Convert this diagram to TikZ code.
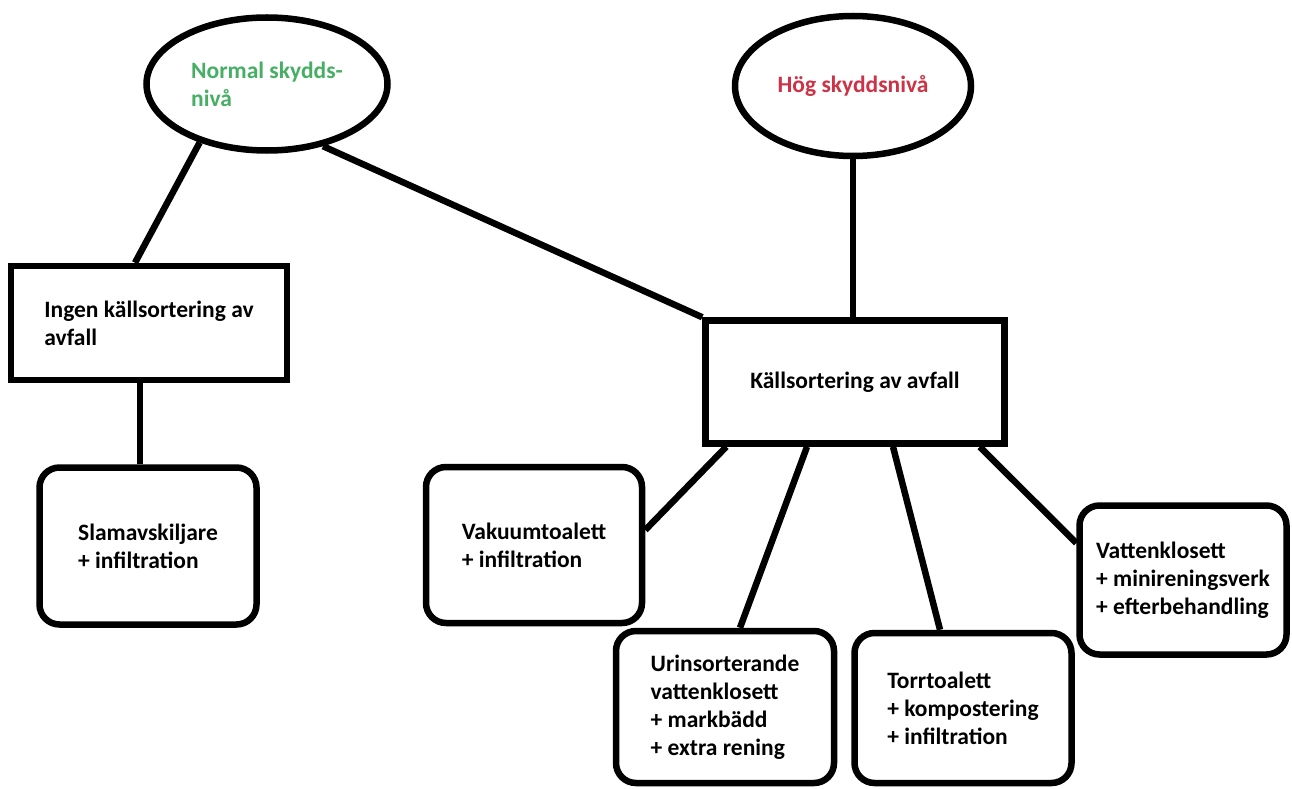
\documentclass[tikz,border=0pt]{standalone}
\usepackage{fontspec}
\setmainfont{Carlito}
\usetikzlibrary{shapes.geometric,calc}
\definecolor{normgreen}{RGB}{70,175,100}
\definecolor{hogred}{RGB}{205,50,70}
\begin{document}
\begin{tikzpicture}[x=1pt,y=-1pt,
  every node/.style={font=\fontsize{23.5}{28}\selectfont\bfseries, align=left, inner sep=0pt},
  oval/.style={ellipse, draw, line width=6.5pt, fill=white},
  sqbox/.style={rectangle, draw, line width=6.5pt, fill=white},
  rbox/.style={rectangle, rounded corners=20pt, draw, line width=6.5pt, fill=white},
  conn/.style={line width=6.5pt}]
\useasboundingbox[fill=white] (0,0) rectangle (1292,789);
\node[oval, minimum width=241pt, minimum height=133pt, text=normgreen] (e1) at (267,84) {Normal skydds-\\niv\r{a}};
\node[oval, minimum width=236pt, minimum height=140pt, text=hogred] (e2) at (853,86) {H\"og skyddsniv\r{a}};
\node[sqbox, minimum width=276pt, minimum height=114pt] (ingen) at (149,323) {Ingen k\"allsortering av\\avfall};
\node[sqbox, minimum width=299pt, minimum height=123pt] (kall) at (855,382) {K\"allsortering av avfall};
\node[rbox, minimum width=217pt, minimum height=157pt] (slam) at (148,546) {Slamavskiljare\\+ infiltration};
\node[rbox, minimum width=216pt, minimum height=156pt] (vak) at (534,545) {Vakuumtoalett\\+ infiltration};
\node[rbox, minimum width=218pt, minimum height=152pt] (urin) at (725,707) {Urinsorterande\\vattenklosett\\+ markb\"add\\+ extra rening};
\node[rbox, minimum width=217pt, minimum height=150pt] (torr) at (963,708) {Torrtoalett\\+ kompostering\\+ infiltration};
\node[rbox, minimum width=207pt, minimum height=149pt] (vatt) at (1183,580) {Vattenklosett\\+ minireningsverk\\+ efterbehandling};
\draw[conn] (e1.221) -- ($(ingen.north)+(-14,0)$);
\draw[conn] (e1.312) -- (kall.north west);
\draw[conn] (e2.south) -- (e2.south |- kall.north);
\draw[conn] ($(ingen.south)+(-9,0)$) coordinate (is) -- (is |- slam.north);
\draw[conn] ($(kall.south west)+(24,0)$) -- ($(vak.east)+(0,-15)$);
\draw[conn] ($(kall.south)+(-48,0)$) -- ($(urin.north)+(15,0)$);
\draw[conn] ($(kall.south)+(38,0)$) -- ($(torr.north)+(-23,0)$);
\draw[conn] ($(kall.south east)+(-28,0)$) -- ($(vatt.west)+(0,-37)$);
\end{tikzpicture}
\end{document}
